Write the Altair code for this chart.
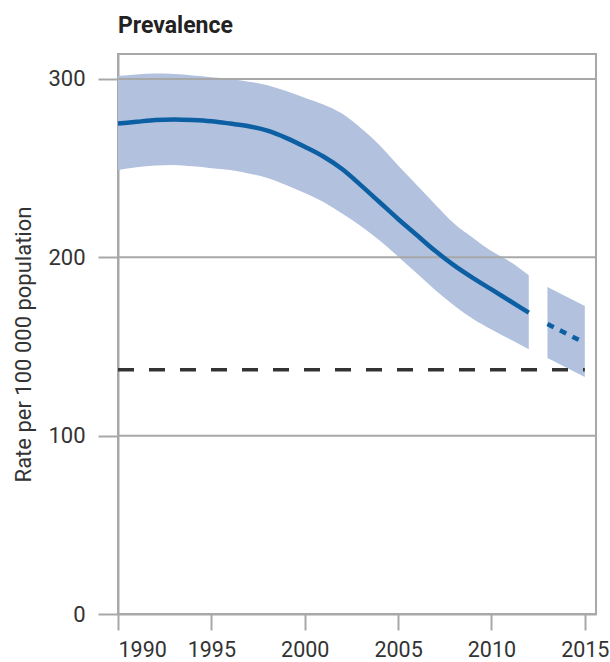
import altair as alt
import pandas as pd

# Observed period (smooth estimate with uncertainty interval)
years_obs = list(range(1990, 2013))
mid_obs = [275, 276, 277, 277.3, 277, 276.3, 275, 273.5, 271, 267, 262, 256.5,
           249.5, 240.5, 231, 221.5, 212.5, 203.5, 195.5, 188.5, 182, 175.5, 169]
upper_obs = [301.7, 302.5, 303, 302.8, 302, 301, 300, 298.5, 296.5, 293.2, 289.5, 285.7,
             280.6, 272.5, 263, 251.5, 240.5, 229.5, 219, 211, 203.5, 197.5, 190]
lower_obs = [249, 250.5, 251.5, 251.8, 251, 250, 249, 247, 244.5, 240.5, 236, 231,
             224.5, 217.5, 209.5, 200.5, 191, 181.5, 173, 165.5, 159.5, 154, 148.5]

# Projection
years_proj = [2013, 2015]
mid_proj = [162.6, 152]
upper_proj = [183.4, 172.7]
lower_proj = [143.6, 132.9]

# Target (dashed reference)
target_value = 137
target_years = [1990, 2015]

grid_values = [100, 200, 300]
x_ticks = [1990, 1995, 2000, 2005, 2010, 2015]
y_ticks = [0, 100, 200, 300]

obs = pd.DataFrame({"year": years_obs, "mid": mid_obs, "lo": lower_obs, "hi": upper_obs})
proj = pd.DataFrame({"year": years_proj, "mid": mid_proj, "lo": lower_proj, "hi": upper_proj})
target = pd.DataFrame({"x": [target_years[0]], "x2": [target_years[1]], "y": [target_value]})
grid = pd.DataFrame({"y": grid_values})

FONT = "Roboto"
BAND = "#b1c1de"
LINE = "#0d5fa3"
GRID = "#a8a8a8"

xscale = alt.Scale(domain=[1990, 2015.6], nice=False, zero=False)
yscale = alt.Scale(domain=[0, 314], nice=False)

x_axis = alt.Axis(values=x_ticks, format="d", title=None, grid=False, tickSize=16,
                  tickWidth=2, tickColor=GRID, domainColor=GRID, domainWidth=2,
                  labelFontSize=21.5, labelFont=FONT, labelColor="#333333", labelPadding=9)
y_axis = alt.Axis(values=y_ticks, title="Rate per 100 000 population", grid=False,
                  tickSize=20, tickWidth=2, tickColor=GRID, domainColor=GRID, domainWidth=2,
                  labelFontSize=22, labelFont=FONT, labelColor="#333333", labelPadding=13,
                  titleFont=FONT, titleFontSize=22, titleFontWeight="normal",
                  titleColor="#333333", titlePadding=12, titleY=290)

band_obs = alt.Chart(obs).mark_area(color=BAND, interpolate="monotone").encode(
    x=alt.X("year:Q", scale=xscale, axis=x_axis),
    y=alt.Y("lo:Q", scale=yscale, axis=y_axis),
    y2="hi:Q",
)
band_proj = alt.Chart(proj).mark_area(color=BAND).encode(
    x=alt.X("year:Q", scale=xscale),
    y=alt.Y("lo:Q", scale=yscale),
    y2="hi:Q",
)
grid_rules = alt.Chart(grid).mark_rule(color=GRID, strokeWidth=2).encode(
    y=alt.Y("y:Q", scale=yscale)
)
line_obs = alt.Chart(obs).mark_line(color=LINE, strokeWidth=4.5, interpolate="monotone").encode(
    x=alt.X("year:Q", scale=xscale),
    y=alt.Y("mid:Q", scale=yscale),
)
line_proj = alt.Chart(proj).mark_line(color=LINE, strokeWidth=4.5, strokeDash=[7, 7]).encode(
    x=alt.X("year:Q", scale=xscale),
    y=alt.Y("mid:Q", scale=yscale),
)
target_rule = alt.Chart(target).mark_rule(color="#333333", strokeWidth=3.5, strokeDash=[16, 15]).encode(
    x=alt.X("x:Q", scale=xscale),
    x2="x2:Q",
    y=alt.Y("y:Q", scale=yscale),
)

chart = alt.layer(band_obs, band_proj, grid_rules, line_obs, line_proj, target_rule).properties(
    width=478,
    height=560,
    autosize=alt.AutoSizeParams(type="none"),
    padding={"left": 118, "top": 54, "right": 14, "bottom": 48},
    title=alt.TitleParams("Prevalence", anchor="start", frame="group", font=FONT, fontSize=23,
                          fontWeight="bold", color="#222222", offset=16),
).configure_view(stroke=GRID, strokeWidth=2)

chart.save("out.html", embed_options={"renderer": "svg", "actions": False})
